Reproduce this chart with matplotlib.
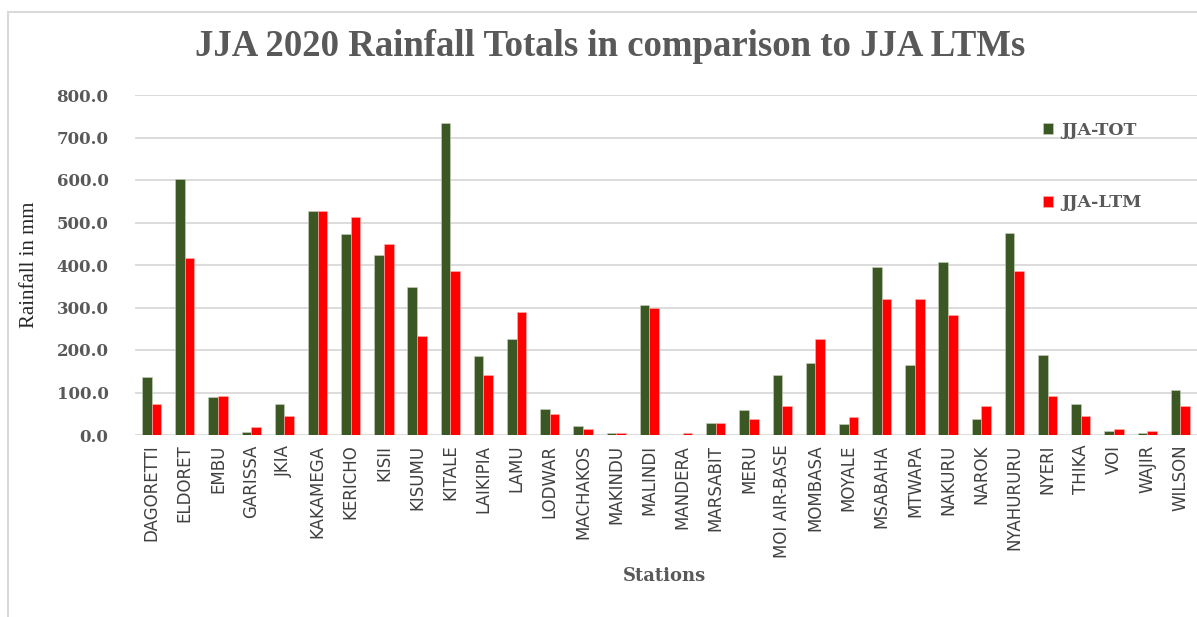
import matplotlib
matplotlib.use("Agg")
import matplotlib.pyplot as plt
from matplotlib.patches import Rectangle
import numpy as np

stations = ["DAGORETTI", "ELDORET", "EMBU", "GARISSA", "JKIA", "KAKAMEGA",
            "KERICHO", "KISII", "KISUMU", "KITALE", "LAIKIPIA", "LAMU",
            "LODWAR", "MACHAKOS", "MAKINDU", "MALINDI", "MANDERA", "MARSABIT",
            "MERU", "MOI AIR-BASE", "MOMBASA", "MOYALE", "MSABAHA", "MTWAPA",
            "NAKURU", "NAROK", "NYAHURURU", "NYERI", "THIKA", "VOI", "WAJIR",
            "WILSON"]
jja_tot = [135.7, 603.0, 88.6, 7.8, 72.0, 526.0, 473.0, 422.7, 349.0, 734.0,
           185.0, 225.0, 62.0, 21.0, 5.5, 305.0, 0.0, 28.0, 58.0, 142.0,
           168.6, 25.0, 396.0, 165.5, 406.0, 38.5, 476.0, 189.0, 72.0, 8.6,
           5.5, 105.0]
jja_ltm = [72.0, 415.7, 92.5, 18.0, 45.5, 526.0, 513.7, 450.0, 232.0, 386.6,
           142.0, 288.6, 48.6, 15.0, 5.5, 299.6, 5.0, 28.0, 38.5, 68.0,
           225.0, 41.6, 319.0, 319.0, 282.0, 68.0, 386.6, 91.8, 45.5, 15.0,
           8.6, 68.0]
yticks = [0, 100, 200, 300, 400, 500, 600, 700, 800]

GREEN, RED = "#3b5824", "#ff0000"
TXT, GRID = "#595959", "#d9d9d9"

fig = plt.figure(figsize=(11.97, 6.17), dpi=100)
fig.patches.append(Rectangle((8 / 1197, -0.1), 1.2, 1.1 - 12 / 617,
                             transform=fig.transFigure, fill=False,
                             edgecolor=GRID, linewidth=1.5))
ax = fig.add_axes([135 / 1197, 1 - 435 / 617, 1062 / 1197, 340 / 617])

x = np.arange(len(stations))
w = 0.29
ax.bar(x - w / 2, jja_tot, width=w, color=GREEN, label="JJA-TOT", zorder=3,
       edgecolor="#c9d3c0", linewidth=0.4)
ax.bar(x + w / 2, jja_ltm, width=w, color=RED, label="JJA-LTM", zorder=3,
       edgecolor="#ffb3b3", linewidth=0.4)

ax.set_xlim(-0.5, len(stations) - 0.5)
ax.set_ylim(0, 800)
ax.set_yticks(yticks)
ax.set_yticklabels([f"{v:.1f}" for v in yticks], family="DejaVu Serif",
                   fontweight="bold", fontsize=12, color=TXT)
ax.set_xticks(x)
ax.set_xticklabels(stations, rotation=90, family="DejaVu Sans",
                   fontsize=12, color="#404040")
ax.tick_params(length=0)
ax.tick_params(axis="y", pad=19)
ax.tick_params(axis="x", pad=7)
ax.grid(axis="y", color=GRID, linewidth=1.3, zorder=0)
for s in ax.spines.values():
    s.set_visible(False)

ax.set_ylabel("Rainfall in mm", family="Liberation Serif", fontsize=15,
              color="#262626")
ax.yaxis.set_label_coords(-(135 - 39) / 1062, 0.5)
ax.set_xlabel("Stations", family="DejaVu Serif", fontweight="bold",
              fontsize=13, color=TXT)
ax.xaxis.set_label_coords((665 - 135) / 1062, -(567 - 435) / 340)

fig.text(610 / 1197, 1 - 46 / 617, "JJA 2020 Rainfall Totals in comparison to JJA LTMs",
         ha="center", va="center", family="Liberation Serif",
         fontweight="bold", fontsize=26.5, color=TXT)

ax.legend(loc="upper left", bbox_to_anchor=(1027 / 1197, 1 - 106 / 617),
          bbox_transform=fig.transFigure, frameon=False,
          prop={"family": "DejaVu Serif", "weight": "bold", "size": 12.5},
          labelcolor=TXT, handlelength=0.6, handleheight=0.6,
          handletextpad=0.5, labelspacing=3.2)

fig.savefig("out.png", dpi=100)
